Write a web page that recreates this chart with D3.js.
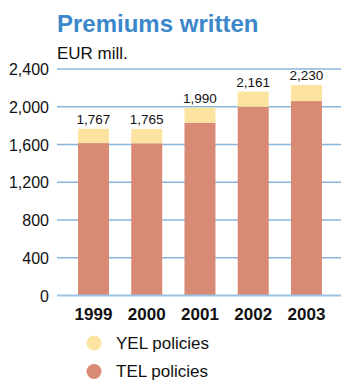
<!DOCTYPE html>
<html><head><meta charset="utf-8">
<script src="https://cdn.jsdelivr.net/npm/d3@7"></script>
<style>html,body{margin:0;padding:0;background:#fff;}</style>
</head><body>
<script>
const years = ["1999","2000","2001","2002","2003"];
const telValues = [1615, 1613, 1830, 2000, 2060];
const yelValues = [152, 152, 160, 161, 170];
const totalLabels = ["1,767","1,765","1,990","2,161","2,230"];
const yTicks = [0, 400, 800, 1200, 1600, 2000, 2400];
const seriesNames = ["YEL policies", "TEL policies"];

const W = 341, H = 380;
const svg = d3.select("body").append("svg").attr("width", W).attr("height", H);
const font = "'Liberation Sans', Arial, Helvetica, sans-serif";

const y = d3.scaleLinear().domain([0, 2400]).range([295.5, 69]);
const x = d3.scaleBand().domain(years).range([67.35, 332.6]).paddingInner(0.418).paddingOuter(0.2);

svg.append("text").attr("x", 57).attr("y", 32).attr("font-family", font).attr("font-weight", "bold")
  .attr("font-size", 24).attr("fill", "#3b87c9").text("Premiums written");
svg.append("text").attr("x", 57).attr("y", 59).attr("font-family", font)
  .attr("font-size", 17).attr("fill", "#111").text("EUR mill.");

// gridlines
svg.append("g").selectAll("line").data(yTicks.filter(d => d > 0)).join("line")
  .attr("x1", 57).attr("x2", W).attr("y1", d => y(d)).attr("y2", d => y(d))
  .attr("stroke", "#8ab4dc").attr("stroke-width", 1.6);

// y axis labels
const yAxis = d3.axisLeft(y).tickValues(yTicks).tickSize(0).tickPadding(0).tickFormat(d3.format(","));
const gy = svg.append("g").attr("transform", "translate(49,0)").call(yAxis);
gy.select(".domain").remove();
gy.selectAll("text").attr("font-family", font).attr("font-size", 16).attr("fill", "#111").attr("dy", "0.35em");

// bars
const data = years.map((yr, i) => ({ yr, tel: telValues[i], yel: yelValues[i], label: totalLabels[i] }));
svg.append("g").selectAll("rect").data(data).join("rect")
  .attr("x", d => x(d.yr)).attr("width", x.bandwidth())
  .attr("y", d => y(d.tel)).attr("height", d => y(0) - y(d.tel)).attr("fill", "#d98a74");
svg.append("g").selectAll("rect").data(data).join("rect")
  .attr("x", d => x(d.yr)).attr("width", x.bandwidth())
  .attr("y", d => y(d.tel + d.yel)).attr("height", d => y(d.tel) - y(d.tel + d.yel)).attr("fill", "#fce3a0");

// zero line
svg.append("line").attr("x1", 57).attr("x2", W).attr("y1", y(0)).attr("y2", y(0))
  .attr("stroke", "#9cc3e4").attr("stroke-width", 2);

// value labels
svg.append("g").selectAll("text").data(data).join("text")
  .attr("x", d => x(d.yr) + x.bandwidth() / 2).attr("y", d => y(d.tel + d.yel) - 5)
  .attr("text-anchor", "middle").attr("font-family", font).attr("font-size", 13.5).attr("fill", "#111")
  .text(d => d.label);

// x axis labels
const xAxis = d3.axisBottom(x).tickSize(0).tickPadding(0);
const gx = svg.append("g").attr("transform", "translate(0,320)").call(xAxis);
gx.select(".domain").remove();
gx.selectAll("text").attr("font-family", font).attr("font-size", 17).attr("font-weight", "bold")
  .attr("fill", "#111").attr("dy", 0);

// legend
const colors = ["#fce3a0", "#d98a74"];
const lg = svg.append("g").selectAll("g").data(seriesNames).join("g")
  .attr("transform", (d, i) => `translate(94,${343 + i * 28.5})`);
lg.append("circle").attr("r", 7.5).attr("fill", (d, i) => colors[i]);
lg.append("text").attr("x", 22).attr("y", 0).attr("dy", "0.35em").attr("font-family", font)
  .attr("font-size", 17).attr("fill", "#111").text(d => d);
</script>
</body></html>
